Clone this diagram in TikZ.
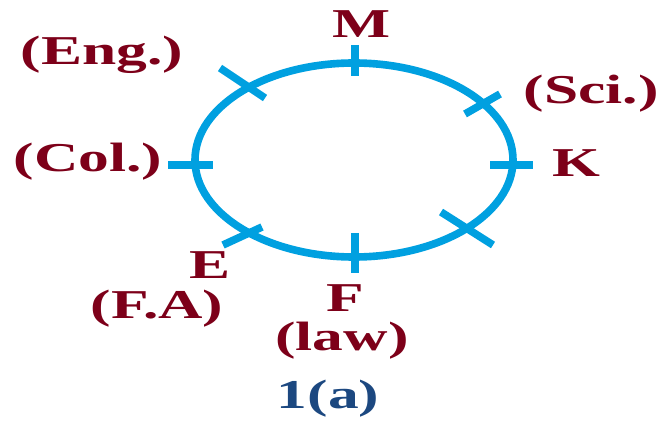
\documentclass[tikz,border=0pt]{standalone}
\usepackage{fontspec}
\setmainfont{Liberation Serif}
\usepackage{tikz}

\definecolor{seatblue}{RGB}{0,160,224}
\definecolor{namered}{RGB}{125,0,25}
\definecolor{capblue}{RGB}{28,72,128}

\begin{document}
\begin{tikzpicture}[x=0.03cm, y=-0.03cm, every node/.style={font=\fontsize{35}{38}\selectfont\bfseries, inner sep=0pt, xscale=1.5},
	lab/.style={text=namered}, seat/.style={seatblue, line width=6.5pt}]
	\useasboundingbox (0,0) rectangle (666,425);
	% table and seats
	\draw[seatblue, line width=6.5pt] (354,160) ellipse [x radius=4.77cm, y radius=2.91cm];
	\draw[seat] (355,45) -- (355,76);
	\draw[seat] (355,233) -- (355,273);
	\draw[seat] (168,165) -- (213,165);
	\draw[seat] (490,165) -- (533,165);
	\draw[seat] (220,68) -- (265,98);
	\draw[seat] (465,114) -- (500,94);
	\draw[seat] (441,212) -- (493,245);
	\draw[seat] (223,245) -- (262,227);
	% names
	\node[lab] (m) at (362,24) {M};
	\node[lab] (k) at (576,163) {K};
	\node[lab] (sci) at (591,94) {(Sci.)};
	\node[lab] (eng) at (102,55) {(Eng.)};
	\node[lab] (col) at (88,162) {(Col.)};
	\node[lab] (e) at (210,265) {E};
	\node[lab] (fa) at (157,309) {(F.A)};
	\node[lab] (f) at (345,298) {F};
	\node[lab] (law) at (342,341) {(law)};
	\node[text=capblue] (cap) at (328,399) {1(a)};
\end{tikzpicture}
\end{document}
